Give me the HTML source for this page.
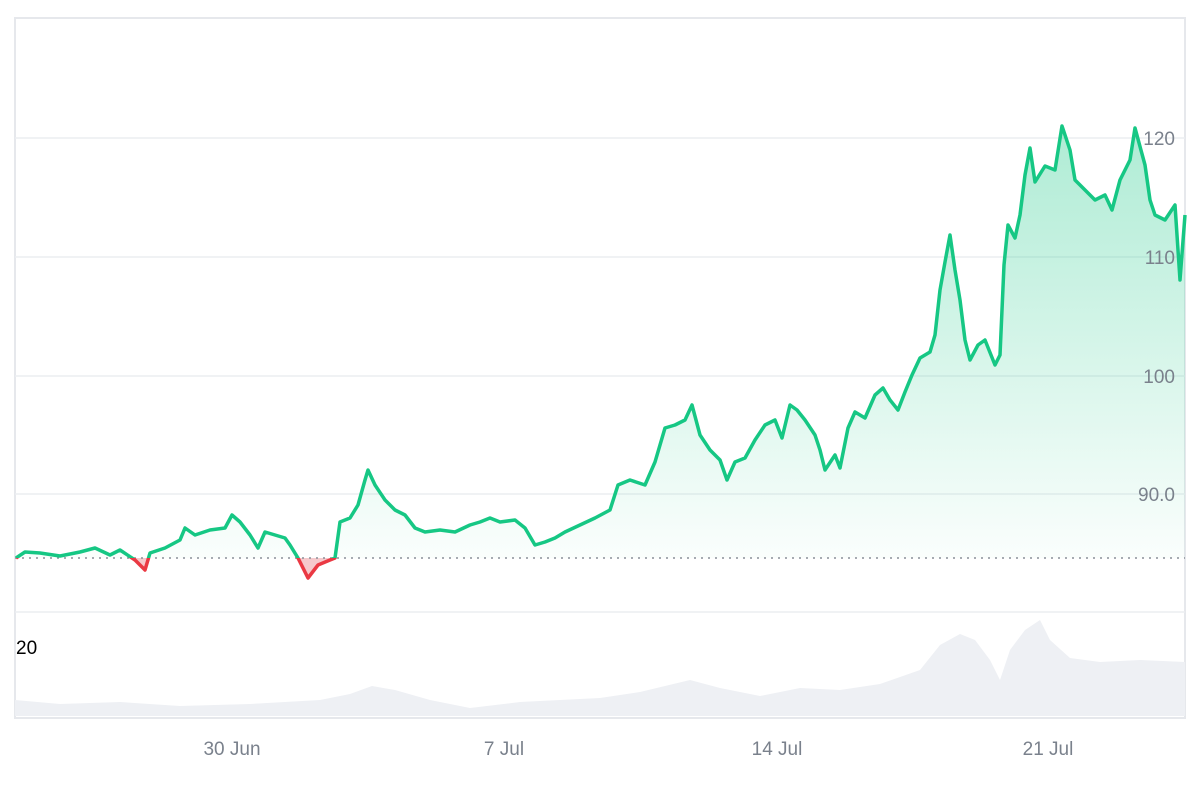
<!DOCTYPE html>
<html><head><meta charset="utf-8"><style>
body{margin:0;background:#fff;}
svg text{font-family:"Liberation Sans",sans-serif;}
</style></head><body>
<svg width="1200" height="800" viewBox="0 0 1200 800" xmlns="http://www.w3.org/2000/svg">
<defs>
<linearGradient id="g" gradientUnits="userSpaceOnUse" x1="0" y1="120" x2="0" y2="558">
<stop offset="0" stop-color="#16c784" stop-opacity="0.35"/>
<stop offset="1" stop-color="#16c784" stop-opacity="0.02"/>
</linearGradient>
<clipPath id="up"><rect x="0" y="0" width="1200" height="558"/></clipPath>
<clipPath id="dn"><rect x="0" y="558" width="1200" height="60"/></clipPath>
<path id="p" d="M16,558 L25,552 L40,553 L60,556 L80,552 L95,548 L110,555 L120,550 L135,560 L145,570 L150,553 L165,548 L180,540 L185,528 L195,535 L210,530 L225,528 L232,515 L240,522 L250,535 L258,548 L265,532 L275,535 L285,538 L290,545 L298,558 L308,578 L318,565 L330,560 L335,558 L340,522 L350,518 L358,505 L365,480 L368,470 L375,485 L385,500 L395,510 L405,515 L415,528 L425,532 L440,530 L455,532 L470,525 L480,522 L490,518 L500,522 L515,520 L525,528 L535,545 L545,542 L555,538 L565,532 L580,525 L595,518 L610,510 L618,485 L630,480 L645,485 L655,462 L665,428 L675,425 L685,420 L692,405 L700,435 L710,450 L720,460 L727,480 L735,462 L745,458 L755,440 L765,425 L775,420 L782,438 L790,405 L797,410 L805,420 L815,435 L820,450 L825,470 L835,455 L840,468 L848,428 L855,412 L865,418 L875,395 L883,388 L890,400 L898,410 L905,392 L912,375 L920,358 L930,352 L935,335 L940,290 L945,262 L950,235 L955,270 L960,300 L965,340 L970,360 L978,345 L985,340 L995,365 L1000,355 L1004,265 L1008,225 L1015,238 L1020,215 L1025,175 L1030,148 L1035,182 L1045,166 L1055,170 L1062,126 L1070,150 L1075,180 L1085,190 L1095,200 L1105,195 L1112,210 L1120,180 L1130,160 L1135,128 L1145,165 L1150,200 L1155,215 L1165,220 L1175,205 L1180,280 L1185,215"/>
</defs>
<rect x="15" y="18" width="1170" height="700" fill="none" stroke="#e6e8ec" stroke-width="2"/>
<g stroke="#eceef1" stroke-width="1.5">
<line x1="15" y1="138" x2="1185" y2="138"/>
<line x1="15" y1="257" x2="1185" y2="257"/>
<line x1="15" y1="376" x2="1185" y2="376"/>
<line x1="15" y1="494" x2="1185" y2="494"/>
<line x1="15" y1="612" x2="1185" y2="612"/>
</g>
<path d="M15,716 L15,700 L60,704 L120,702 L180,706 L250,704 L320,700 L350,694 L372,686 L395,690 L430,700 L470,708 L520,702 L560,700 L600,698 L640,692 L690,680 L720,688 L760,696 L800,688 L840,690 L880,684 L920,670 L940,645 L960,634 L975,640 L990,660 L1000,680 L1010,650 L1025,630 L1040,620 L1050,640 L1070,658 L1100,662 L1140,660 L1185,662 L1185,716 Z" fill="#eef0f4"/>
<path d="M16,558 L25,552 L40,553 L60,556 L80,552 L95,548 L110,555 L120,550 L135,560 L145,570 L150,553 L165,548 L180,540 L185,528 L195,535 L210,530 L225,528 L232,515 L240,522 L250,535 L258,548 L265,532 L275,535 L285,538 L290,545 L298,558 L308,578 L318,565 L330,560 L335,558 L340,522 L350,518 L358,505 L365,480 L368,470 L375,485 L385,500 L395,510 L405,515 L415,528 L425,532 L440,530 L455,532 L470,525 L480,522 L490,518 L500,522 L515,520 L525,528 L535,545 L545,542 L555,538 L565,532 L580,525 L595,518 L610,510 L618,485 L630,480 L645,485 L655,462 L665,428 L675,425 L685,420 L692,405 L700,435 L710,450 L720,460 L727,480 L735,462 L745,458 L755,440 L765,425 L775,420 L782,438 L790,405 L797,410 L805,420 L815,435 L820,450 L825,470 L835,455 L840,468 L848,428 L855,412 L865,418 L875,395 L883,388 L890,400 L898,410 L905,392 L912,375 L920,358 L930,352 L935,335 L940,290 L945,262 L950,235 L955,270 L960,300 L965,340 L970,360 L978,345 L985,340 L995,365 L1000,355 L1004,265 L1008,225 L1015,238 L1020,215 L1025,175 L1030,148 L1035,182 L1045,166 L1055,170 L1062,126 L1070,150 L1075,180 L1085,190 L1095,200 L1105,195 L1112,210 L1120,180 L1130,160 L1135,128 L1145,165 L1150,200 L1155,215 L1165,220 L1175,205 L1180,280 L1185,215 L1185,558 L16,558 Z" fill="url(#g)" clip-path="url(#up)"/>
<use href="#p" fill="#f6c9cc" clip-path="url(#dn)"/>
<line x1="15" y1="558" x2="1185" y2="558" stroke="#8a8f98" stroke-width="1.5" stroke-dasharray="2,5"/>
<use href="#p" fill="none" stroke="#16c784" stroke-width="3.5" stroke-linejoin="round" clip-path="url(#up)"/>
<use href="#p" fill="none" stroke="#ea3943" stroke-width="3.5" stroke-linejoin="round" clip-path="url(#dn)"/>
<g fill="#7a818c" font-size="19" text-anchor="end">
<text x="1175" y="145">120</text>
<text x="1175" y="264">110</text>
<text x="1175" y="383">100</text>
<text x="1175" y="501">90.0</text>
</g>
<text x="16" y="654" font-size="19" fill="#000">20</text>
<g fill="#7a818c" font-size="19" text-anchor="middle">
<text x="232" y="755">30 Jun</text>
<text x="504" y="755">7 Jul</text>
<text x="777" y="755">14 Jul</text>
<text x="1048" y="755">21 Jul</text>
</g>
</svg>
</body></html>
